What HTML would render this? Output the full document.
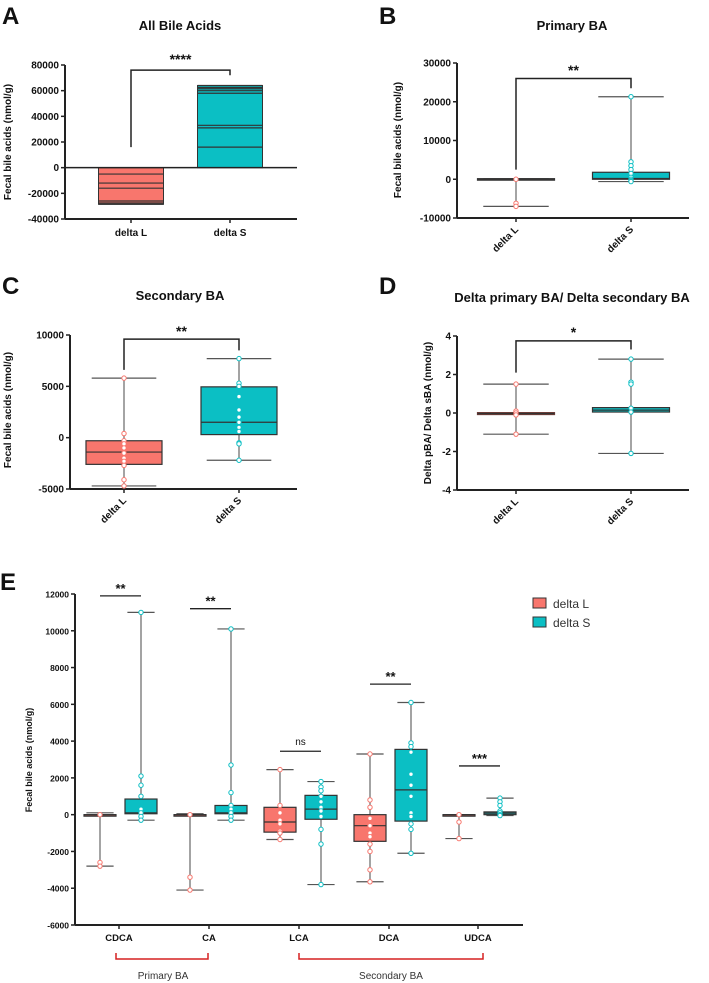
<!DOCTYPE html>
<html><head><meta charset="utf-8"><style>
html,body{margin:0;padding:0;background:#fff;}
svg{display:block;font-family:"Liberation Sans",Arial,sans-serif;}
</style></head><body>
<svg id="fig" width="709" height="983" viewBox="0 0 709 983" xmlns="http://www.w3.org/2000/svg"></svg>
<script>
// ---------- DATA ----------
const groups = ["delta L", "delta S"];
// Panel A stacked bars
const aTicks = [80000, 60000, 40000, 20000, 0, -20000, -40000];
const aTotals = [-28500, 64000];
const aLinesL = [-5000, -12000, -16000, -26000, -27500, -28500];
const aLinesS = [16000, 31000, 33000, 58000, 60000, 61500, 62500, 64000];
// Panel B
const bTicks = [30000, 20000, 10000, 0, -10000];
const bStatsL = [-7000, -200, 0, 150, 100];
const bStatsS = [-600, 0, 200, 1800, 21300];
const bPtsL = [0, -6200, -7000];
const bPtsS = [21300, 4500, 3500, 2500, 1500, 500, 0, -300, -600];
// Panel C
const cTicks = [10000, 5000, 0, -5000];
const cStatsL = [-4700, -2600, -1400, -300, 5800];
const cStatsS = [-2200, 300, 1500, 4950, 7700];
const cPtsL = [5800, 400, -300, -600, -1000, -1500, -2000, -2300, -2700, -4100, -4700];
const cPtsS = [7700, 5300, 5000, 4000, 2700, 2000, 1500, 1000, 600, -500, -600, -2200];
// Panel D
const dTicks = [4, 2, 0, -2, -4];
const dStatsL = [-1.1, -0.08, -0.03, 0.02, 1.5];
const dStatsS = [-2.1, 0.05, 0.15, 0.28, 2.8];
const dPtsL = [1.5, 0.1, 0, -0.1, -1.1];
const dPtsS = [2.8, 1.6, 1.5, 0.25, 0.05, -2.1];
// Panel E
const eCats = ["CDCA", "CA", "LCA", "DCA", "UDCA"];
const eTicks = [12000, 10000, 8000, 6000, 4000, 2000, 0, -2000, -4000, -6000];
const eStatsL = [[-2800,0,0,0,100],[-4100,0,0,0,50],[-1350,-950,-400,400,2450],[-3650,-1450,-600,0,3300],[-1300,0,0,0,0]];
const eStatsS = [[-300,50,100,850,11000],[-300,50,100,500,10100],[-3800,-250,300,1050,1800],[-2100,-350,1350,3550,6100],[-50,0,80,150,900]];
const ePtsL = [[0,-2600,-2800],[0,-3400,-4100],[2450,500,100,-300,-500,-900,-1000,-1350],[3300,800,400,-200,-600,-1000,-1200,-1600,-2000,-3000,-3650],[0,-400,-1300]];
const ePtsS = [[11000,2100,1600,1000,300,100,-100,-300],[10100,2700,1200,500,300,100,-100,-300],[1800,1500,1300,1000,700,400,200,-100,-800,-1600,-3800],[6100,3900,3700,3400,2200,1600,1000,100,-100,-500,-800,-2100],[900,700,500,200,100,0,-50]];
const eSigLabels = ["**","**","ns","**","***"];
const eSigValues = [11900, 11200, 3450, 7100, 2650];

// ---------- HELPERS ----------
const NS = "http://www.w3.org/2000/svg";
const svg = document.getElementById("fig");
const RED = "#F8766D", TEAL = "#0BBFC4", DARK = "#222";
function mk(tag, attrs, name, parent) {
  const el = document.createElementNS(NS, tag);
  for (const k in attrs) el.setAttribute(k, attrs[k]);
  
  
  (parent || svg).appendChild(el);
  return el;
}
function txt(x, y, s, size, name, extra) {
  const t = mk("text", Object.assign({x: x, y: y, "font-size": size, "font-weight": "bold", fill: "#111", "text-anchor": "middle"}, extra || {}), name);
  t.textContent = s;
  return t;
}
function scale(vmax, vmin, top, bot) { return v => top + (vmax - v) / (vmax - vmin) * (bot - top); }
function yAxis(ax, ticks, y, name, fs) {
  mk("line", {x1: ax, y1: y(ticks[0]), x2: ax, y2: y(ticks[ticks.length-1]), stroke: DARK, "stroke-width": 2}, name + "-y-axis");
  ticks.forEach(t => {
    mk("line", {x1: ax - 4, y1: y(t), x2: ax, y2: y(t), stroke: DARK, "stroke-width": 1.5}, name + "-y-tick");
    txt(ax - 6, y(t) + 3.5, String(t), fs || 10, name + "-y-tick-label", {"text-anchor": "end"});
  });
}
function boxplot(cx, w, st, pts, color, y, name, edge) {
  const cap = w * 0.85;
  mk("line", {x1: cx, y1: y(st[0]), x2: cx, y2: y(st[4]), stroke: "#666", "stroke-width": 1.2}, name + "-whisker");
  mk("line", {x1: cx - cap/2, y1: y(st[0]), x2: cx + cap/2, y2: y(st[0]), stroke: "#555", "stroke-width": 1.2}, name + "-min-cap");
  mk("line", {x1: cx - cap/2, y1: y(st[4]), x2: cx + cap/2, y2: y(st[4]), stroke: "#555", "stroke-width": 1.2}, name + "-max-cap");
  const h = Math.max(1.5, y(st[1]) - y(st[3]));
  mk("rect", {x: cx - w/2, y: y(st[3]), width: w, height: h, fill: color, stroke: edge || "#333", "stroke-width": 1.2}, name + "-box");
  mk("line", {x1: cx - w/2, y1: y(st[2]), x2: cx + w/2, y2: y(st[2]), stroke: "#333", "stroke-width": 1.2}, name + "-median");
  pts.forEach(p => mk("circle", {cx: cx, cy: y(p), r: 2.2, fill: "#fff", stroke: color, "stroke-width": 1}, name + "-point"));
}
function bracket(x1, x2, yTop, yL, yR, label, name, ly) {
  mk("path", {d: `M${x1},${yL} V${yTop} H${x2} V${yR}`, fill: "none", stroke: DARK, "stroke-width": 1.5}, name + "-bracket");
  txt((x1 + x2) / 2, ly, label, 14, name + "-significance");
}
function rotLabels(xs, ay, name) {
  xs.forEach((x, i) => {
    mk("line", {x1: x, y1: ay, x2: x, y2: ay + 4, stroke: DARK, "stroke-width": 1.5}, name + "-x-tick");
    txt(x + 3, ay + 12, groups[i], 10, name + "-x-label", {"text-anchor": "end", transform: `rotate(-45 ${x + 3} ${ay + 12})`});
  });
}

// ---------- PANEL A ----------
txt(2, 24, "A", 24, "panel-a-letter", {"text-anchor": "start"});
txt(180, 30, "All Bile Acids", 13, "panel-a-title");
txt(0, 0, "Fecal bile acids (nmol/g)", 10, "panel-a-y-title", {transform: "translate(11 142) rotate(-90)"});
{
  const y = scale(80000, -40000, 65, 219);
  const xs = [131, 230];
  yAxis(65, aTicks, y, "panel-a", 10);
  mk("line", {x1: 65, y1: 219, x2: 297, y2: 219, stroke: DARK, "stroke-width": 2}, "panel-a-x-axis");
  const cols = [RED, TEAL], lines = [aLinesL, aLinesS];
  xs.forEach((x, i) => {
    const v = aTotals[i];
    mk("rect", {x: x - 32.5, y: Math.min(y(0), y(v)), width: 65, height: Math.abs(y(v) - y(0)), fill: cols[i], stroke: "#333", "stroke-width": 1}, "panel-a-bar-" + (i ? "delta-s" : "delta-l"));
    lines[i].forEach(l => mk("line", {x1: x - 32.5, y1: y(l), x2: x + 32.5, y2: y(l), stroke: "#333", "stroke-width": 1.2}, "panel-a-bar-segment"));
    mk("line", {x1: x, y1: 219, x2: x, y2: 223, stroke: DARK, "stroke-width": 1.5}, "panel-a-x-tick");
    txt(x, 236, groups[i], 10, "panel-a-x-label");
  });
  mk("line", {x1: 65, y1: y(0), x2: 297, y2: y(0), stroke: DARK, "stroke-width": 1.5}, "panel-a-zero-line");
  bracket(131, 230, y(76000), y(16000), y(72000), "****", "panel-a", 64);
}

// ---------- PANEL B ----------
txt(379, 24, "B", 24, "panel-b-letter", {"text-anchor": "start"});
txt(572, 30, "Primary BA", 13, "panel-b-title");
txt(0, 0, "Fecal bile acids (nmol/g)", 10, "panel-b-y-title", {transform: "translate(401 140) rotate(-90)"});
{
  const y = scale(30000, -10000, 63, 218);
  const xs = [516, 631];
  yAxis(457, bTicks, y, "panel-b", 10);
  mk("line", {x1: 457, y1: 218, x2: 689, y2: 218, stroke: DARK, "stroke-width": 2}, "panel-b-x-axis");
  boxplot(xs[0], 77, bStatsL, bPtsL, RED, y, "panel-b-delta-l");
  boxplot(xs[1], 77, bStatsS, bPtsS, TEAL, y, "panel-b-delta-s");
  rotLabels(xs, 218, "panel-b");
  bracket(xs[0], xs[1], y(26000), y(2500), y(23500), "**", "panel-b", 75);
}

// ---------- PANEL C ----------
txt(2, 294, "C", 24, "panel-c-letter", {"text-anchor": "start"});
txt(180, 300, "Secondary BA", 13, "panel-c-title");
txt(0, 0, "Fecal bile acids (nmol/g)", 10, "panel-c-y-title", {transform: "translate(11 410) rotate(-90)"});
{
  const y = scale(10000, -5000, 335, 489);
  const xs = [124, 239];
  yAxis(70, cTicks, y, "panel-c", 10);
  mk("line", {x1: 70, y1: 489, x2: 297, y2: 489, stroke: DARK, "stroke-width": 2}, "panel-c-x-axis");
  boxplot(xs[0], 76, cStatsL, cPtsL, RED, y, "panel-c-delta-l");
  boxplot(xs[1], 76, cStatsS, cPtsS, TEAL, y, "panel-c-delta-s");
  rotLabels(xs, 489, "panel-c");
  bracket(xs[0], xs[1], y(9600), y(6600), y(8500), "**", "panel-c", 336);
}

// ---------- PANEL D ----------
txt(379, 294, "D", 24, "panel-d-letter", {"text-anchor": "start"});
txt(572, 302, "Delta primary BA/ Delta secondary BA", 13, "panel-d-title");
txt(0, 0, "Delta pBA/ Delta sBA (nmol/g)", 10, "panel-d-y-title", {transform: "translate(431 413) rotate(-90)"});
{
  const y = scale(4, -4, 336, 490);
  const xs = [516, 631];
  yAxis(457, dTicks, y, "panel-d", 10);
  mk("line", {x1: 457, y1: 490, x2: 689, y2: 490, stroke: DARK, "stroke-width": 2}, "panel-d-x-axis");
  boxplot(xs[0], 77, dStatsL, dPtsL, RED, y, "panel-d-delta-l", "#6b3b36");
  boxplot(xs[1], 77, dStatsS, dPtsS, TEAL, y, "panel-d-delta-s");
  rotLabels(xs, 490, "panel-d");
  bracket(xs[0], xs[1], y(3.75), y(2.1), y(3.3), "*", "panel-d", 337);
}

// ---------- PANEL E ----------
txt(0, 590, "E", 24, "panel-e-letter", {"text-anchor": "start"});
txt(0, 0, "Fecal bile acids (nmol/g)", 9, "panel-e-y-title", {transform: "translate(32 760) rotate(-90)"});
{
  const y = scale(12000, -6000, 594, 925);
  const cx = [119, 209, 299, 389, 478];
  yAxis(75, eTicks, y, "panel-e", 8.5);
  mk("line", {x1: 75, y1: 925, x2: 523, y2: 925, stroke: DARK, "stroke-width": 2}, "panel-e-x-axis");
  eCats.forEach((c, i) => {
    boxplot(cx[i] - 19, 32, eStatsL[i], ePtsL[i], RED, y, "panel-e-" + c.toLowerCase() + "-delta-l");
    boxplot(cx[i] + 22, 32, eStatsS[i], ePtsS[i], TEAL, y, "panel-e-" + c.toLowerCase() + "-delta-s");
    mk("line", {x1: cx[i], y1: 925, x2: cx[i], y2: 929, stroke: DARK, "stroke-width": 1.5}, "panel-e-x-tick");
    txt(cx[i], 941, c, 9.5, "panel-e-x-label");
    const sy = y(eSigValues[i]);
    mk("line", {x1: cx[i] - 19, y1: sy, x2: cx[i] + 22, y2: sy, stroke: DARK, "stroke-width": 1.3}, "panel-e-significance-line");
    const ns = eSigLabels[i] === "ns";
    txt(cx[i] + 1.5, sy - (ns ? 6 : 3), eSigLabels[i], ns ? 10 : 13, "panel-e-significance", ns ? {"font-weight": "normal"} : {});
  });
  // group brackets
  mk("path", {d: "M116,953 V959 H208 V953", fill: "none", stroke: "#d62020", "stroke-width": 1.5}, "primary-ba-bracket");
  mk("path", {d: "M299,953 V959 H483 V953", fill: "none", stroke: "#d62020", "stroke-width": 1.5}, "secondary-ba-bracket");
  txt(163, 979, "Primary BA", 10, "primary-ba-label", {"font-weight": "normal", fill: "#333"});
  txt(391, 979, "Secondary BA", 10, "secondary-ba-label", {"font-weight": "normal", fill: "#333"});
  // legend
  mk("rect", {x: 533, y: 598, width: 13, height: 10, fill: RED, stroke: "#333", "stroke-width": 1}, "legend-swatch-delta-l");
  txt(553, 608, "delta L", 12, "legend-label-delta-l", {"text-anchor": "start", "font-weight": "normal", fill: "#333"});
  mk("rect", {x: 533, y: 617, width: 13, height: 10, fill: TEAL, stroke: "#333", "stroke-width": 1}, "legend-swatch-delta-s");
  txt(553, 627, "delta S", 12, "legend-label-delta-s", {"text-anchor": "start", "font-weight": "normal", fill: "#333"});
}
</script>
</body></html>
